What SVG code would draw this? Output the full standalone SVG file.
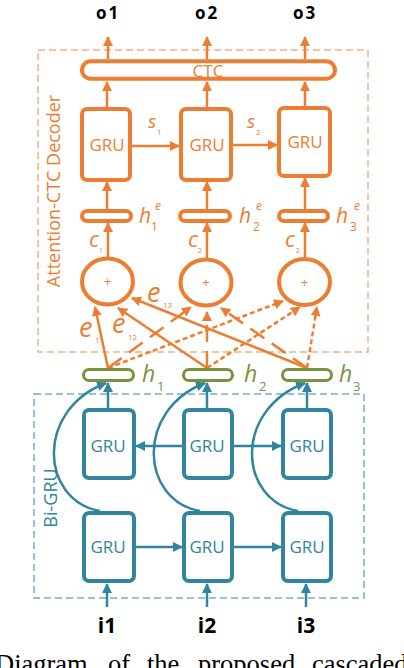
<svg xmlns="http://www.w3.org/2000/svg" width="404" height="668" viewBox="0 0 404 668">
<defs>
<marker id="ao" viewBox="0 0 10 10" refX="9" refY="5" markerWidth="10" markerHeight="10" markerUnits="userSpaceOnUse" orient="auto"><path d="M0,0 L10,5 L0,10 z" fill="#ED7D31"/></marker>
<marker id="ab" viewBox="0 0 10 10" refX="9" refY="5" markerWidth="10" markerHeight="10" markerUnits="userSpaceOnUse" orient="auto"><path d="M0,0 L10,5 L0,10 z" fill="#31859C"/></marker>
<style>
.o{stroke:#ED7D31;fill:none}
.b{stroke:#31859C;fill:none}
.ob{stroke:#ED7D31;stroke-width:4;fill:#fff}
.bb{stroke:#31859C;stroke-width:4;fill:#fff}
.gp{stroke:#77933C;stroke-width:3;fill:#fff}
.ol{stroke:#ED7D31;stroke-width:2.5;fill:none;marker-end:url(#ao)}
.bl{stroke:#31859C;stroke-width:2.5;fill:none;marker-end:url(#ab)}
.d2{stroke-dasharray:17 9}
.d3{stroke-dasharray:5 3}
.t{font-family:"Open Sans","DejaVu Sans",sans-serif}
.to{fill:#ED7D31}
.tb{fill:#31859C}
.tg{fill:#77933C}
.lab{font-family:"Open Sans","DejaVu Sans",sans-serif;font-weight:bold;fill:#000;text-anchor:middle}
.it{font-style:italic}
.mid{text-anchor:middle}
</style>
</defs>

<!-- group boxes -->
<rect id="decoder-box" x="38" y="50" width="330" height="302" fill="none" stroke="#F4B183" stroke-width="1.5" stroke-dasharray="7 4"/>
<text class="t to mid" x="60" y="191" font-size="18" transform="rotate(-90 60 191)">Attention-CTC Decoder</text>
<rect id="bigru-box" x="34" y="394" width="330" height="204" fill="none" stroke="#6FB0C4" stroke-width="1.5" stroke-dasharray="7 4"/>
<text class="t tb mid" x="57" y="498" font-size="18" transform="rotate(-90 57 498)">Bi-GRU</text>

<!-- connectors -->
<g id="connectors">
  <!-- outputs -->
  <line class="ol" x1="108" y1="59" x2="108" y2="37"/>
  <line class="ol" x1="207" y1="59" x2="207" y2="37"/>
  <line class="ol" x1="305" y1="59" x2="305" y2="37"/>
  <!-- GRU to CTC -->
  <line class="ol" x1="107" y1="107" x2="107" y2="82"/>
  <line class="ol" x1="207" y1="107" x2="207" y2="82"/>
  <line class="ol" x1="305" y1="106" x2="305" y2="82"/>
  <!-- s arrows -->
  <line class="ol" x1="132" y1="146" x2="179" y2="146"/>
  <line class="ol" x1="233" y1="145" x2="277" y2="145"/>
  <!-- he to GRU -->
  <line class="ol" x1="107" y1="209" x2="107" y2="182"/>
  <line class="ol" x1="207" y1="209" x2="207" y2="182"/>
  <line class="ol" x1="305" y1="209" x2="305" y2="178"/>
  <!-- circle to he -->
  <line class="ol" x1="108" y1="257" x2="108" y2="223"/>
  <line class="ol" x1="207" y1="258" x2="207" y2="223"/>
  <line class="ol" x1="305" y1="257" x2="305" y2="223"/>
  <!-- attention to circle 1 (solid) -->
  <line class="ol" x1="108" y1="368" x2="95" y2="307"/>
  <line class="ol" x1="207" y1="368" x2="118" y2="308"/>
  <line class="ol" x1="307" y1="368" x2="132" y2="298"/>
  <!-- attention to circle 2 (long dash) -->
  <line class="ol d2" x1="108" y1="368" x2="191" y2="307"/>
  <line class="ol d2" x1="207" y1="368" x2="207" y2="312"/>
  <line class="ol d2" x1="307" y1="368" x2="221" y2="308"/>
  <!-- attention to circle 3 (short dash) -->
  <line class="ol d3" x1="108" y1="368" x2="283" y2="301"/>
  <line class="ol d3" x1="207" y1="368" x2="300" y2="307"/>
  <line class="ol d3" x1="307" y1="368" x2="317" y2="307"/>
  <!-- upper GRU to h -->
  <line class="bl" x1="108" y1="408" x2="108" y2="383"/>
  <line class="bl" x1="207" y1="408" x2="207" y2="383"/>
  <line class="bl" x1="307" y1="408" x2="307" y2="383"/>
  <!-- backward GRU -->
  <line class="bl" x1="182" y1="446" x2="136" y2="446"/>
  <line class="bl" x1="234" y1="446" x2="281" y2="446"/>
  <!-- forward GRU -->
  <line class="bl" x1="136" y1="547" x2="182" y2="547"/>
  <line class="bl" x1="234" y1="547" x2="281" y2="547"/>
  <!-- skip curves -->
  <path class="bl" d="M100,511 C40,500 35,410 106,383"/>
  <path class="bl" d="M200,511 C140,500 135,410 205,383"/>
  <path class="bl" d="M298,511 C238,500 233,410 305,383"/>
  <!-- inputs -->
  <line class="bl" x1="107" y1="607" x2="107" y2="584"/>
  <line class="bl" x1="207" y1="607" x2="207" y2="584"/>
  <line class="bl" x1="306" y1="607" x2="306" y2="584"/>
</g>

<!-- outputs -->
<g id="o1"><text class="lab" x="108" y="19" font-size="17" letter-spacing="2">o1</text></g>
<g id="o2"><text class="lab" x="207" y="19" font-size="17" letter-spacing="2">o2</text></g>
<g id="o3"><text class="lab" x="305" y="19" font-size="17" letter-spacing="2">o3</text></g>

<!-- CTC -->
<g id="ctc">
  <rect class="ob" x="82" y="61.3" width="253" height="17.4" rx="8.7"/>
  <text class="t to mid" x="208" y="77" font-size="17">CTC</text>
</g>

<!-- decoder GRUs -->
<g id="dgru1"><rect class="ob" x="82" y="109" width="48" height="71" rx="5"/><text class="t to mid" x="107" y="151" font-size="17">GRU</text></g>
<g id="dgru2"><rect class="ob" x="181" y="109" width="50" height="71" rx="5"/><text class="t to mid" x="207" y="151" font-size="17">GRU</text></g>
<g id="dgru3"><rect class="ob" x="279" y="108" width="51" height="68" rx="5"/><text class="t to mid" x="305" y="148" font-size="17">GRU</text></g>
<text class="t to it" font-size="19"><tspan x="148" y="128">s</tspan><tspan x="157" y="135" font-size="8" font-style="normal">1</tspan></text>
<text class="t to it" font-size="19"><tspan x="247" y="128">s</tspan><tspan x="256" y="135" font-size="8" font-style="normal">2</tspan></text>

<!-- he pills -->
<g id="he1"><rect class="ob" x="82" y="211" width="49" height="10" rx="5"/>
<text class="t to it" font-size="21"><tspan x="139" y="223">h</tspan><tspan x="151" y="231" font-size="12" font-style="normal">1</tspan><tspan x="155" y="210" font-size="12">e</tspan></text></g>
<g id="he2"><rect class="ob" x="180" y="211" width="50" height="10" rx="5"/>
<text class="t to it" font-size="21"><tspan x="239" y="223">h</tspan><tspan x="253" y="231" font-size="12" font-style="normal">2</tspan><tspan x="256" y="210" font-size="12">e</tspan></text></g>
<g id="he3"><rect class="ob" x="279" y="211" width="49" height="10" rx="5"/>
<text class="t to it" font-size="21"><tspan x="336" y="223">h</tspan><tspan x="350" y="231" font-size="12" font-style="normal">3</tspan><tspan x="354" y="210" font-size="12">e</tspan></text></g>

<!-- c labels -->
<text class="t to it" font-size="22"><tspan x="89" y="247">c</tspan><tspan x="99" y="253" font-size="7" font-style="normal">1</tspan></text>
<text class="t to it" font-size="22"><tspan x="188" y="247">c</tspan><tspan x="198" y="253" font-size="7" font-style="normal">2</tspan></text>
<text class="t to it" font-size="22"><tspan x="285" y="247">c</tspan><tspan x="296" y="253" font-size="7" font-style="normal">2</tspan></text>

<!-- sum nodes -->
<g id="sum1"><ellipse class="ob" cx="107.5" cy="281.5" rx="25.5" ry="23"/><text class="t to mid" x="107.5" y="286" font-size="13">+</text></g>
<g id="sum2"><ellipse class="ob" cx="206" cy="282.5" rx="25.5" ry="23"/><text class="t to mid" x="206" y="287" font-size="13">+</text></g>
<g id="sum3"><ellipse class="ob" cx="304.5" cy="282" rx="25.5" ry="23"/><text class="t to mid" x="304.5" y="286.5" font-size="13">+</text></g>

<!-- e labels -->
<text class="t to it" font-size="27"><tspan x="79" y="337">e</tspan><tspan x="95" y="343" font-size="8" font-style="normal">11</tspan></text>
<text class="t to it" font-size="27"><tspan x="112" y="333">e</tspan><tspan x="128" y="340" font-size="8" font-style="normal">12</tspan></text>
<text class="t to it" font-size="27"><tspan x="147" y="302">e</tspan><tspan x="163" y="308" font-size="8" font-style="normal">13</tspan></text>

<!-- h pills -->
<g id="h1"><rect class="gp" x="83.5" y="369.5" width="50" height="11" rx="5.5"/>
<text class="t tg it" font-size="23"><tspan x="142" y="382">h</tspan><tspan x="157" y="391" font-size="13" font-style="normal">1</tspan></text></g>
<g id="h2"><rect class="gp" x="183.5" y="369.5" width="49" height="11" rx="5.5"/>
<text class="t tg it" font-size="23"><tspan x="244" y="382">h</tspan><tspan x="259" y="391" font-size="13" font-style="normal">2</tspan></text></g>
<g id="h3"><rect class="gp" x="282.5" y="369.5" width="49" height="11" rx="5.5"/>
<text class="t tg it" font-size="23"><tspan x="339" y="382">h</tspan><tspan x="353" y="391" font-size="13" font-style="normal">3</tspan></text></g>

<!-- encoder GRUs -->
<g id="bgru1"><rect class="bb" x="84" y="410" width="50" height="68" rx="5"/><text class="t tb mid" x="108" y="452" font-size="17">GRU</text></g>
<g id="bgru2"><rect class="bb" x="184" y="410" width="48" height="68" rx="5"/><text class="t tb mid" x="207" y="452" font-size="17">GRU</text></g>
<g id="bgru3"><rect class="bb" x="283" y="410" width="48" height="68" rx="5"/><text class="t tb mid" x="307" y="452" font-size="17">GRU</text></g>
<g id="fgru1"><rect class="bb" x="84" y="513" width="50" height="68" rx="5"/><text class="t tb mid" x="108" y="553" font-size="17">GRU</text></g>
<g id="fgru2"><rect class="bb" x="184" y="513" width="48" height="68" rx="5"/><text class="t tb mid" x="207" y="553" font-size="17">GRU</text></g>
<g id="fgru3"><rect class="bb" x="283" y="513" width="48" height="68" rx="5"/><text class="t tb mid" x="307" y="553" font-size="17">GRU</text></g>

<!-- inputs -->
<g id="i1"><text class="lab" x="107" y="633" font-size="21">i1</text></g>
<g id="i2"><text class="lab" x="207" y="633" font-size="21">i2</text></g>
<g id="i3"><text class="lab" x="306" y="633" font-size="21">i3</text></g>

<!-- caption (cut off, as in the reference) -->
<text font-family="'Liberation Serif',serif" font-size="26.5" fill="#000"><tspan x="-5" y="673">Diagram</tspan><tspan x="108" y="673">of</tspan><tspan x="147" y="673">the</tspan><tspan x="198" y="673">proposed</tspan><tspan x="312" y="673">cascaded</tspan></text>
</svg>
